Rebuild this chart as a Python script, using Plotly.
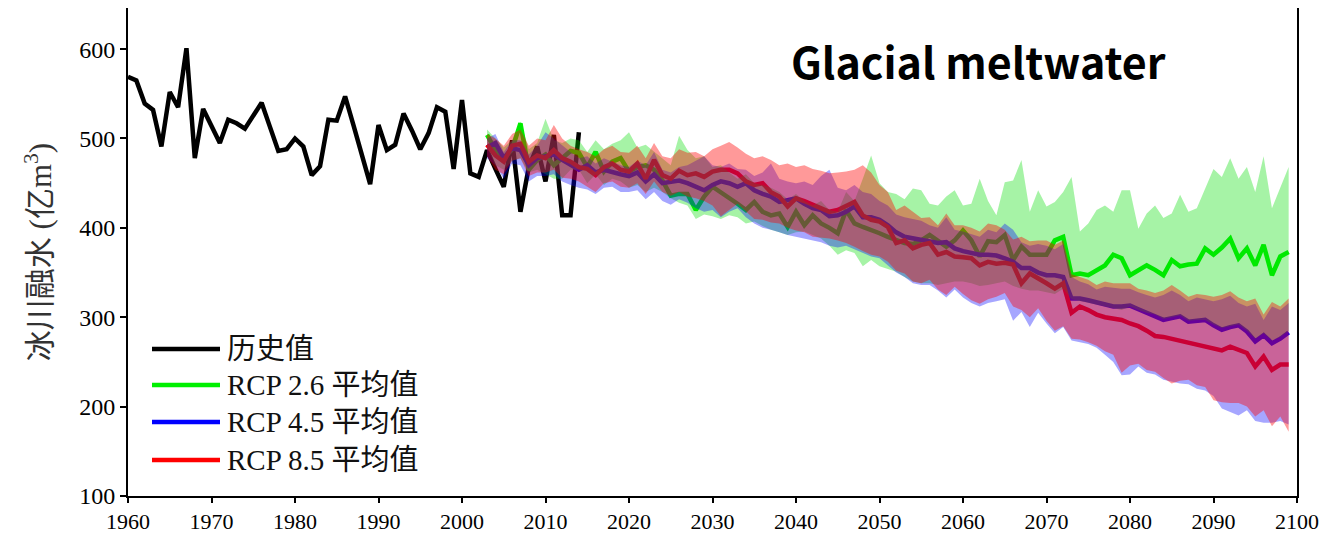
import plotly.graph_objects as go

# ---------------- data ----------------
hist_years = list(range(1960, 2015))
hist_vals = [569, 565, 539, 532, 491, 552, 535, 601, 478, 533,
             514, 495, 521, 517, 511, 526, 540, 513, 486, 488,
             500, 491, 459, 469, 521, 520, 547, 515, 482, 449,
             515, 487, 493, 528, 509, 488, 506, 535, 530, 466,
             543, 461, 457, 487, 466, 446, 498, 418, 468, 491,
             452, 504, 414, 414, 507]

proj_years = list(range(2003, 2100))

rcp26_mean = [504, 487, 478, 488, 517, 465, 476,
              482, 470, 478, 486, 484, 468, 485, 463, 474, 478,
              463, 468, 470, 465, 453, 436, 438, 438, 420, 435,
              446, 440, 433, 427, 420, 429, 418, 414, 416, 401,
              418, 403, 414, 405, 400, 394, 420, 405, 401, 398,
              394, 390, 386, 383, 382, 386, 392, 386, 379, 386,
              397, 386, 368, 385, 384, 392, 364, 379, 370, 370,
              370, 386, 390, 347, 349, 347, 353, 358, 370, 366,
              347, 352, 358, 353, 347, 364, 357, 359, 360, 377,
              370, 378, 388, 366, 377, 358, 381, 347, 368, 373]
rcp26_upper = [510, 500, 490, 498, 519, 488, 495,
               522, 498, 495, 500, 498, 485, 498, 488, 494, 498,
               507, 490, 493, 485, 478, 470, 503, 487, 478, 480,
               468, 470, 462, 455, 460, 450, 448, 445, 440, 432,
               438, 430, 425, 430, 420, 418, 440, 430, 455, 481,
               450, 440, 438, 432, 444, 442, 427, 425, 435, 442,
               425, 427, 455, 430, 414, 451, 453, 476, 418, 442,
               424, 429, 440, 457, 396, 405, 420, 425, 418, 442,
               442, 399, 416, 425, 411, 416, 437, 418, 422, 444,
               466, 457, 478, 455, 468, 440, 480, 422, 446, 468]
rcp26_lower = [490, 470, 465, 475, 478, 462, 465,
               460, 455, 455, 465, 465, 450, 460, 448, 455, 452,
               445, 448, 440, 445, 440, 433, 428, 425, 410, 415,
               413, 410, 414, 412, 405, 407, 402, 398, 395, 392,
               395, 396, 392, 388, 380, 370, 375, 372, 357, 364,
               357, 354, 351, 345, 340, 338, 338, 336, 338, 340,
               340, 338, 335, 336, 338, 340, 335, 332, 330, 330,
               328, 326, 332, 320, 318, 316, 314, 312, 310, 308,
               312, 308, 305, 303, 298, 300, 302, 296, 297, 297,
               292, 288, 290, 292, 285, 276, 282, 274, 278, 285]

rcp45_mean = [490, 495, 478, 489, 487, 470, 478,
              480, 482, 476, 470, 465, 470, 462, 465, 462, 460,
              458, 462, 452, 460, 450, 452, 453, 450, 446, 442,
              448, 452, 450, 446, 450, 442, 438, 435, 429, 431,
              433, 427, 422, 420, 413, 414, 418, 424, 412, 412,
              409, 403, 395, 390, 388, 386, 385, 383, 384, 377,
              374, 372, 370, 370, 369, 366, 362, 355, 355, 350,
              347, 347, 345, 321, 321, 319, 317, 314, 312, 312,
              313, 309, 305, 302, 297, 299, 301, 295, 296, 297,
              291, 286, 289, 291, 284, 273, 280, 271, 276, 283]
rcp45_upper = [500, 505, 485, 498, 498, 482, 492,
               507, 500, 492, 485, 478, 480, 472, 478, 474, 470,
               468, 475, 470, 485, 465, 462, 468, 470, 475, 480,
               470, 468, 472, 466, 465, 458, 462, 472, 455, 452,
               450, 452, 448, 458, 465, 445, 442, 448, 440, 438,
               430, 425, 415, 412, 410, 408, 403, 400, 412, 398,
               396, 393, 390, 398, 395, 405, 398, 384, 380, 382,
               380, 376, 382, 345, 340, 337, 331, 334, 333, 332,
               332, 328, 325, 322, 325, 330, 325, 318, 322, 320,
               318, 320, 324, 316, 312, 315, 297, 312, 308, 316]
rcp45_lower = [478, 470, 455, 472, 470, 452, 458,
               458, 460, 452, 448, 445, 443, 438, 445, 446, 440,
               440, 442, 432, 440, 430, 426, 432, 428, 422, 418,
               420, 412, 418, 422, 412, 405, 400, 398, 395, 392,
               390, 388, 386, 384, 380, 378, 380, 376, 372, 368,
               366, 358, 350, 345, 338, 336, 336, 330, 322, 331,
               322, 316, 312, 316, 318, 320, 296, 306, 289, 305,
               293, 282, 289, 274, 272, 270, 266, 258, 250, 235,
               236, 245, 238, 236, 230, 228, 226, 225, 220, 218,
               212, 198, 194, 190, 196, 184, 182, 182, 184, 180]

rcp85_mean = [493, 481, 474, 492, 494, 474, 481,
              478, 487, 478, 474, 468, 466, 459, 468, 472, 465,
              463, 472, 455, 476, 459, 455, 464, 459, 461, 457,
              463, 465, 465, 461, 452, 448, 450, 440, 435, 424,
              433, 430, 426, 422, 418, 420, 424, 429, 414, 409,
              407, 401, 383, 386, 377, 381, 383, 370, 373, 368,
              367, 366, 358, 362, 360, 361, 359, 338, 349, 344,
              338, 332, 338, 305, 312, 308, 303, 300, 298, 297,
              293, 290, 285, 279, 278, 276, 273, 271, 269, 268,
              266, 263, 267, 264, 260, 245, 256, 241, 247, 247]
rcp85_upper = [505, 500, 492, 505, 510, 492, 500,
               498, 515, 500, 492, 488, 485, 480, 488, 492, 485,
               484, 492, 478, 495, 480, 478, 488, 484, 485, 480,
               488, 492, 496, 490, 483, 478, 480, 476, 470, 472,
               468, 470, 466, 464, 461, 462, 463, 465, 470, 462,
               448, 440, 420, 425, 418, 411, 412, 403, 416, 403,
               403, 400, 396, 405, 403, 398, 387, 390, 385, 386,
               386, 381, 386, 348, 345, 342, 336, 340, 338, 338,
               338, 332, 330, 327, 330, 336, 330, 323, 326, 325,
               323, 325, 329, 322, 318, 321, 303, 317, 312, 321]
rcp85_lower = [480, 465, 460, 475, 478, 458, 462,
               462, 465, 456, 455, 452, 446, 440, 450, 452, 446,
               445, 450, 438, 452, 440, 436, 440, 435, 433, 430,
               425, 413, 420, 427, 418, 410, 409, 406, 405, 400,
               397, 395, 390, 389, 388, 386, 383, 379, 374, 370,
               368, 362, 352, 349, 340, 338, 342, 331, 325, 334,
               326, 319, 315, 320, 323, 327, 312, 308, 300, 310,
               296, 285, 290, 276, 275, 272, 268, 262, 258, 238,
               246, 248, 241, 239, 232, 226, 229, 230, 224, 222,
               207, 205, 204, 204, 200, 189, 196, 178, 189, 172]

legend_labels = ["历史值", "RCP 2.6 平均值", "RCP 4.5 平均值", "RCP 8.5 平均值"]
x_ticks = list(range(1960, 2101, 10))
y_ticks = [100, 200, 300, 400, 500, 600]

for arr in [rcp26_mean, rcp26_upper, rcp26_lower, rcp45_mean, rcp45_upper,
            rcp45_lower, rcp85_mean, rcp85_upper, rcp85_lower]:
    assert len(arr) == len(proj_years), len(arr)
assert len(hist_vals) == len(hist_years)

# ---------------- styling ----------------
line_colors = ["#000000", "#00f000", "#0000ff", "#ff0000"]
band_colors = ["rgba(0,220,0,0.35)", "rgba(0,0,255,0.35)", "rgba(255,0,0,0.40)"]
serif = "Liberation Serif, 'Times New Roman', 'Noto Sans CJK SC', serif"
LW = 4.5

fig = go.Figure()

# lines first (bands are drawn over them, as in the reference)
fig.add_trace(go.Scatter(x=hist_years, y=hist_vals, mode="lines",
                         line=dict(color=line_colors[0], width=LW), showlegend=False))
for mean, col in zip([rcp26_mean, rcp45_mean, rcp85_mean], line_colors[1:]):
    fig.add_trace(go.Scatter(x=proj_years, y=mean, mode="lines",
                             line=dict(color=col, width=LW), showlegend=False))

# uncertainty bands
for up, lo, col in zip([rcp26_upper, rcp45_upper, rcp85_upper],
                       [rcp26_lower, rcp45_lower, rcp85_lower], band_colors):
    fig.add_trace(go.Scatter(x=proj_years + proj_years[::-1], y=up + lo[::-1],
                             mode="lines", fill="toself", fillcolor=col,
                             line=dict(width=0), hoverinfo="skip", showlegend=False))

# ---------------- layout ----------------
L, R, T, B = 128, 40, 8, 38
W, H = 1337, 534
pw, ph = W - L - R, H - T - B

def px(xp):
    return (xp - L) / pw

def py(yp):
    return (H - B - yp) / ph

shapes = []
annotations = []
legend_y = [349, 385, 422, 460]
for lab, col, ly in zip(legend_labels, line_colors, legend_y):
    shapes.append(dict(type="line", xref="paper", yref="paper",
                       x0=px(152), x1=px(220), y0=py(ly), y1=py(ly),
                       line=dict(color=col, width=LW)))
    annotations.append(dict(text=lab, xref="paper", yref="paper",
                            x=px(225), y=py(ly), xanchor="left", yanchor="middle",
                            showarrow=False,
                            font=dict(family=serif, size=29, color="#111")))

annotations.append(dict(text="<b>Glacial meltwater</b>", xref="paper", yref="paper",
                        x=px(978), y=py(60), xanchor="center", yanchor="middle",
                        showarrow=False,
                        font=dict(family="'Noto Sans CJK SC', 'Noto Sans', sans-serif",
                                  size=43, color="#000")))

fig.update_layout(
    width=W, height=H,
    margin=dict(l=L, r=R, t=T, b=B, autoexpand=False),
    paper_bgcolor="white", plot_bgcolor="white",
    shapes=shapes, annotations=annotations,
    showlegend=False,
)
fig.update_xaxes(range=[1960, 2100], tickvals=x_ticks, ticks="outside",
                 ticklen=5, tickwidth=2, tickcolor="black", automargin=False,
                 showline=True, linewidth=2, linecolor="black", mirror=False,
                 showgrid=False, zeroline=False,
                 tickfont=dict(family=serif, size=22, color="black"))
fig.update_yaxes(range=[100, 646], tickvals=y_ticks, ticks="outside",
                 ticklen=6, tickwidth=2, tickcolor="black", automargin=False,
                 showline=True, linewidth=2, linecolor="black", mirror=True,
                 showgrid=False, zeroline=False,
                 tickfont=dict(family=serif, size=24, color="black"),
                 title=dict(text="冰川融水 (亿m<sup>3</sup>)", standoff=18,
                            font=dict(family=serif, size=31, color="#333")))

fig.write_html("out.html", config={"displayModeBar": False},
               post_script="document.body.style.margin='0';document.body.style.overflow='hidden';")
